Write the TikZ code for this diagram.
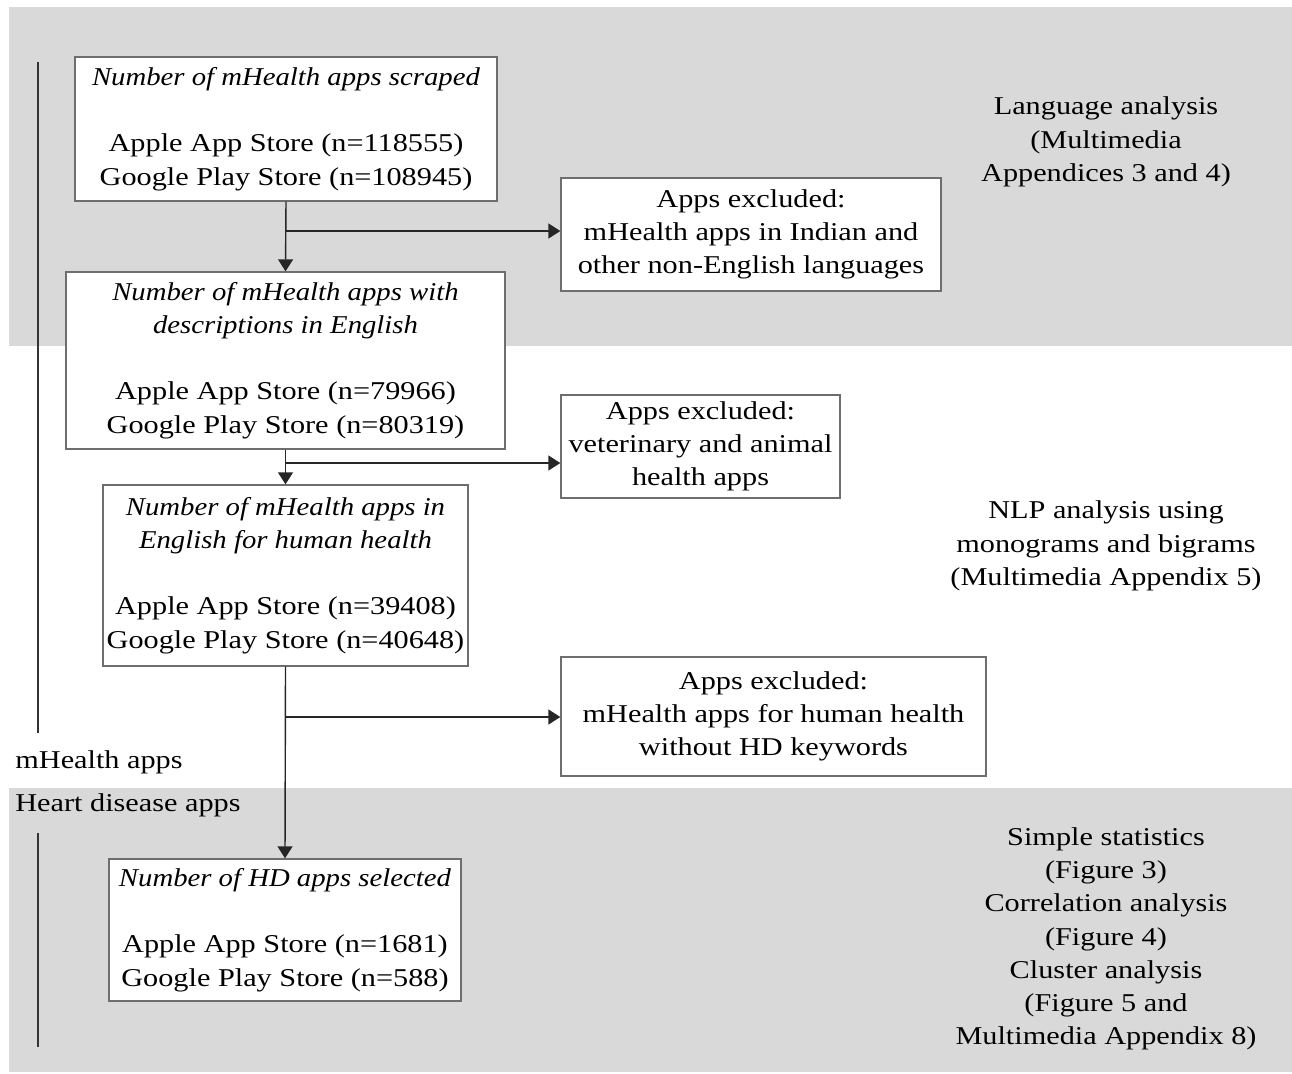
\documentclass[tikz,border=0pt]{standalone}
\usepackage{fontspec}
\setmainfont{Liberation Serif}[UprightFeatures={FakeStretch=1.18}, ItalicFeatures={FakeStretch=1.12}]
\usetikzlibrary{arrows.meta}
\definecolor{bandgray}{HTML}{D9D9D9}
\definecolor{boxline}{HTML}{6E6E6E}
\tikzset{
  txt/.style={font=\fontsize{14.6}{18.9}\selectfont, align=center, inner sep=0pt},
  flowbox/.style={txt, draw=boxline, line width=0.8pt, fill=white},
  arr/.style={draw=black!85, line width=0.8pt, -{Triangle[length=6.8pt,width=8.5pt]}},
  sideline/.style={draw=black!80, line width=0.7pt},
}
\begin{document}
\begin{tikzpicture}[x=0.02cm,y=-0.02cm]
\useasboundingbox (0,0) rectangle (1292,1073);
% bands
\fill[bandgray] (9,7) rectangle (1292,346);
\fill[bandgray] (9,788) rectangle (1292,1072);
% side lines
\coordinate (s1a) at (38,62);
\coordinate (s1b) at (38,733);
\coordinate (s2a) at (38,833);
\coordinate (s2b) at (38,1047);
\draw[sideline] (s1a) -- (s1b);
\draw[sideline] (s2a) -- (s2b);
% main boxes
\node[flowbox, minimum width=8.44cm, minimum height=2.88cm] (b1) at (286,129)
  {\textit{Number of mHealth apps scraped}\\[18.9pt]Apple App Store (n=118555)\\Google Play Store (n=108945)};
\node[flowbox, minimum width=8.78cm, minimum height=3.54cm] (b2) at (285.5,360.5)
  {\textit{Number of mHealth apps with}\\\textit{descriptions in English}\\[18.9pt]Apple App Store (n=79966)\\Google Play Store (n=80319)};
\node[flowbox, minimum width=7.3cm, minimum height=3.62cm] (b3) at (285.5,575.5)
  {\textit{Number of mHealth apps in}\\\textit{English for human health}\\[18.9pt]Apple App Store (n=39408)\\Google Play Store (n=40648)};
\node[flowbox, minimum width=7.04cm, minimum height=2.84cm] (b4) at (285,930)
  {\textit{Number of HD apps selected}\\[18.9pt]Apple App Store (n=1681)\\Google Play Store (n=588)};
% excluded boxes
\node[flowbox, minimum width=7.6cm, minimum height=2.26cm] (e1) at (751,234.5)
  {Apps excluded:\\mHealth apps in Indian and\\other non-English languages};
\node[flowbox, minimum width=5.58cm, minimum height=2.06cm] (e2) at (700.5,446.5)
  {Apps excluded:\\veterinary and animal\\health apps};
\node[flowbox, minimum width=8.5cm, minimum height=2.38cm] (e3) at (773.5,716.5)
  {Apps excluded:\\mHealth apps for human health\\without HD keywords};
% connectors
\draw[arr] (b1.south) -- (b2.north);
\draw[arr] (b2.south) -- (b3.north);
\draw[arr] (b3.south) -- (b4.north);
\coordinate (j1) at (286,231);
\coordinate (j2) at (286,463);
\coordinate (j3) at (286,717);
\draw[arr] (j1) -- (j1 -| e1.west);
\draw[arr] (j2) -- (j2 -| e2.west);
\draw[arr] (j3) -- (j3 -| e3.west);
% side labels
\node[txt, anchor=west] (lm) at (15,762) {mHealth apps};
\node[txt, anchor=west] (lh) at (15,805) {Heart disease apps};
% right labels
\node[txt] (r1) at (1106,142) {Language analysis\\(Multimedia\\Appendices 3 and 4)};
\node[txt] (r2) at (1106,546) {NLP analysis using\\monograms and bigrams\\(Multimedia Appendix 5)};
\node[txt] (r3) at (1106,939) {Simple statistics\\(Figure 3)\\Correlation analysis\\(Figure 4)\\Cluster analysis\\(Figure 5 and\\Multimedia Appendix 8)};
\end{tikzpicture}
\end{document}
